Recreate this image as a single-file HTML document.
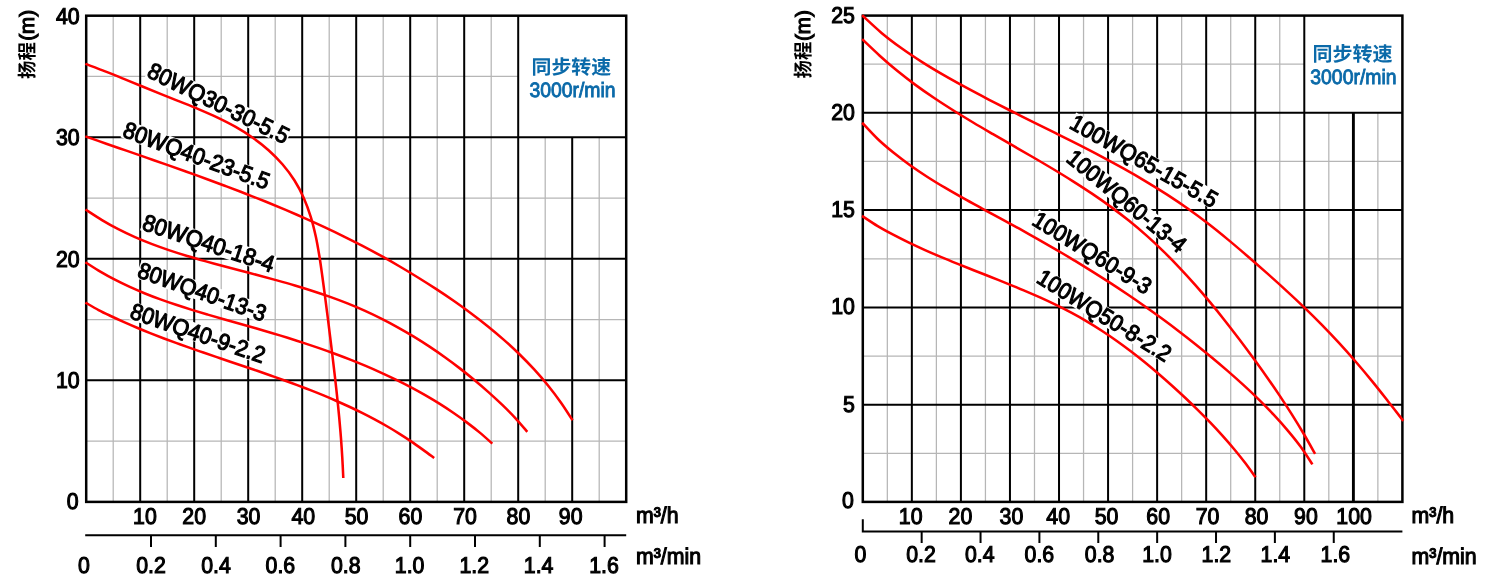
<!DOCTYPE html>
<html><head><meta charset="utf-8"><title>Pump performance curves</title>
<style>
html,body{margin:0;padding:0;background:#fff;}
body{width:1489px;height:580px;overflow:hidden;}
svg{display:block;font-family:"Liberation Sans", sans-serif;will-change:transform;text-rendering:geometricPrecision;}
text{white-space:pre;}
</style></head><body>
<svg width="1489" height="580" viewBox="0 0 1489 580">
<rect width="1489" height="580" fill="#fff"/>
<path d="M113.2 15.7V501.9M167.2 15.7V501.9M221.2 15.7V501.9M275.2 15.7V501.9M329.2 15.7V501.9M383.2 15.7V501.9M437.2 15.7V501.9M491.2 15.7V501.9M545.2 137.25V501.9M599.2 137.25V501.9M86.2 76.47H518.2M86.2 198.02H626.2M86.2 319.57H626.2M86.2 441.12H626.2" stroke="#b6b6b6" stroke-width="1.25" fill="none"/>
<path d="M140.2 15.7V501.9M194.2 15.7V501.9M248.2 15.7V501.9M302.2 15.7V501.9M356.2 15.7V501.9M410.2 15.7V501.9M464.2 15.7V501.9M518.2 15.7V501.9M572.2 137.25V501.9M86.2 137.25H626.2M86.2 258.8H626.2M86.2 380.35H626.2" stroke="#000" stroke-width="2" fill="none"/>
<rect x="86.2" y="15.7" width="540" height="486.2" stroke="#000" stroke-width="2.5" fill="none"/>
<path d="M887.33 15.6V501.9M936.38 15.6V501.9M985.44 15.6V501.9M1034.49 15.6V501.9M1083.55 15.6V501.9M1132.6 15.6V501.9M1181.65 15.6V501.9M1230.71 15.6V501.9M1279.76 15.6V501.9M1328.82 112.86V501.9M1377.87 112.86V501.9M862.8 64.23H1304.29M862.8 161.49H1402.4M862.8 258.75H1402.4M862.8 356.01H1402.4M862.8 453.27H1402.4" stroke="#b6b6b6" stroke-width="1.25" fill="none"/>
<path d="M911.85 15.6V501.9M960.91 15.6V501.9M1009.96 15.6V501.9M1059.02 15.6V501.9M1108.07 15.6V501.9M1157.13 15.6V501.9M1206.18 15.6V501.9M1255.24 15.6V501.9M1304.29 15.6V501.9M1353.35 112.86V501.9M862.8 112.86H1402.4M862.8 210.12H1402.4M862.8 307.38H1402.4M862.8 404.64H1402.4" stroke="#000" stroke-width="2" fill="none"/>
<path d="M1353.35 112.86V501.9" stroke="#000" stroke-width="2.8" fill="none"/>
<rect x="862.8" y="15.6" width="539.6" height="486.3" stroke="#000" stroke-width="2.5" fill="none"/>
<rect transform="translate(145.78 76.35) rotate(26.1)" x="-0.5" y="-17.06" width="155.29" height="18.37" fill="#fff"/>
<rect transform="translate(121.43 136.27) rotate(20.3)" x="-0.5" y="-17.06" width="155.29" height="18.37" fill="#fff"/>
<rect transform="translate(140.94 229.17) rotate(18.4)" x="-0.5" y="-17.21" width="138.45" height="18.54" fill="#fff"/>
<rect transform="translate(136.33 276.87) rotate(19.5)" x="-0.5" y="-16.82" width="135.31" height="18.12" fill="#fff"/>
<rect transform="translate(128.64 317.67) rotate(18.9)" x="-0.5" y="-16.9" width="141.91" height="18.2" fill="#fff"/>
<rect transform="translate(1068.36 127.54) rotate(29.3)" x="-0.5" y="-16.9" width="165.82" height="18.2" fill="#fff"/>
<rect transform="translate(1065.08 160.39) rotate(39.5)" x="-0.5" y="-16.9" width="147.89" height="18.2" fill="#fff"/>
<rect transform="translate(1030.64 224.03) rotate(31.7)" x="-0.5" y="-16.9" width="135.94" height="18.2" fill="#fff"/>
<rect transform="translate(1035.14 281.82) rotate(31.8)" x="-0.5" y="-16.9" width="153.87" height="18.2" fill="#fff"/>
<g fill="none" stroke="#ff0000" stroke-width="2.55" stroke-linecap="butt" stroke-linejoin="round">
<path d="M85.36 63.88C88.66 65.13 98.78 68.83 105.19 71.34C111.61 73.84 117.63 76.36 123.83 78.89C130.03 81.42 136.21 83.98 142.42 86.52C148.63 89.06 154.84 91.61 161.1 94.13C167.36 96.65 173.69 99.12 179.99 101.65C186.3 104.18 192.67 106.67 198.94 109.33C205.21 111.99 211.48 114.68 217.6 117.61C223.72 120.54 229.8 123.57 235.66 126.91C241.52 130.26 247.29 133.81 252.77 137.69C258.26 141.57 263.6 145.75 268.58 150.22C273.56 154.69 278.33 159.45 282.65 164.5C286.98 169.55 291 174.89 294.53 180.5C298.07 186.11 301.15 192.06 303.87 198.16C306.58 204.26 308.83 210.65 310.83 217.08C312.82 223.51 314.4 230.12 315.85 236.75C317.29 243.38 318.4 250.12 319.5 256.83C320.59 263.54 321.48 270.31 322.42 277.03C323.36 283.75 324.24 290.45 325.12 297.14C326 303.83 326.85 310.49 327.7 317.16C328.54 323.83 329.37 330.49 330.18 337.15C331 343.82 331.81 350.48 332.61 357.16C333.41 363.83 334.2 370.51 334.97 377.21C335.73 383.9 336.48 390.6 337.19 397.3C337.9 404.01 338.58 410.72 339.2 417.44C339.82 424.15 340.41 430.88 340.93 437.61C341.44 444.33 341.9 451.07 342.29 457.8C342.69 464.53 343.13 474.63 343.3 478"/>
<path d="M85.35 136.4C88.83 137.62 99.43 141.31 106.26 143.68C113.09 146.05 119.64 148.31 126.34 150.64C133.03 152.96 139.73 155.27 146.42 157.6C153.11 159.94 159.81 162.27 166.49 164.62C173.18 166.98 179.86 169.34 186.53 171.73C193.2 174.12 199.87 176.53 206.52 178.97C213.18 181.41 219.82 183.87 226.45 186.36C233.07 188.86 239.69 191.39 246.29 193.96C252.88 196.54 259.46 199.15 266.02 201.8C272.58 204.46 279.12 207.16 285.63 209.92C292.15 212.68 298.64 215.49 305.11 218.36C311.57 221.23 318.01 224.15 324.42 227.14C330.83 230.14 337.22 233.19 343.56 236.32C349.91 239.45 356.23 242.65 362.51 245.93C368.79 249.21 375.04 252.56 381.25 255.99C387.45 259.42 393.62 262.92 399.75 266.5C405.87 270.08 411.96 273.74 417.99 277.47C424.03 281.2 430.02 285.01 435.96 288.89C441.9 292.77 447.8 296.72 453.62 300.77C459.44 304.82 465.22 308.94 470.89 313.17C476.57 317.4 482.19 321.72 487.69 326.17C493.19 330.61 498.61 335.16 503.9 339.84C509.19 344.52 514.39 349.31 519.43 354.24C524.48 359.18 529.41 364.24 534.18 369.45C538.94 374.66 543.57 380.01 548.02 385.51C552.46 391.02 556.75 396.7 560.85 402.49C564.95 408.29 570.64 417.33 572.6 420.3"/>
<path d="M85.44 209.52C88.2 211.28 96.52 216.82 102 220.1C107.47 223.38 112.77 226.35 118.28 229.2C123.78 232.04 129.36 234.67 135 237.16C140.64 239.66 146.36 241.97 152.12 244.17C157.87 246.37 163.69 248.42 169.54 250.39C175.39 252.35 181.29 254.19 187.21 255.98C193.13 257.77 199.09 259.46 205.06 261.13C211.03 262.8 217.03 264.4 223.02 266C229.02 267.6 235.03 269.16 241.03 270.75C247.03 272.33 253.04 273.9 259.03 275.5C265.03 277.1 271.02 278.71 276.99 280.37C282.97 282.04 288.93 283.72 294.86 285.49C300.8 287.25 306.72 289.05 312.6 290.95C318.48 292.85 324.34 294.81 330.15 296.89C335.96 298.97 341.75 301.13 347.48 303.42C353.21 305.72 358.9 308.12 364.54 310.66C370.17 313.19 375.76 315.86 381.29 318.64C386.82 321.41 392.3 324.32 397.72 327.33C403.14 330.33 408.51 333.46 413.81 336.69C419.11 339.91 424.36 343.25 429.54 346.67C434.72 350.1 439.84 353.63 444.89 357.25C449.94 360.86 454.92 364.58 459.83 368.37C464.75 372.16 469.59 376.04 474.36 380C479.13 383.95 483.84 387.98 488.45 392.1C493.06 396.21 497.6 400.41 502.05 404.69C506.49 408.98 510.89 413.3 515.1 417.81C519.31 422.33 525.27 429.47 527.3 431.8"/>
<path d="M85.44 262.22C87.92 263.79 95.43 268.71 100.34 271.63C105.25 274.54 109.99 277.15 114.9 279.71C119.81 282.26 124.79 284.66 129.81 286.96C134.83 289.25 139.9 291.41 145.01 293.48C150.12 295.56 155.28 297.51 160.46 299.4C165.64 301.29 170.87 303.07 176.11 304.82C181.35 306.56 186.63 308.22 191.91 309.85C197.2 311.48 202.51 313.04 207.82 314.6C213.14 316.16 218.47 317.67 223.79 319.2C229.12 320.72 234.45 322.22 239.78 323.73C245.1 325.25 250.43 326.75 255.75 328.29C261.07 329.82 266.39 331.36 271.7 332.95C277 334.53 282.3 336.13 287.58 337.78C292.87 339.43 298.14 341.11 303.4 342.84C308.66 344.57 313.9 346.33 319.13 348.15C324.36 349.97 329.57 351.83 334.77 353.75C339.96 355.67 345.14 357.63 350.29 359.66C355.44 361.7 360.57 363.78 365.67 365.93C370.76 368.09 375.84 370.3 380.87 372.58C385.91 374.87 390.92 377.22 395.88 379.65C400.84 382.08 405.78 384.58 410.66 387.16C415.54 389.75 420.38 392.41 425.17 395.16C429.96 397.91 434.71 400.74 439.39 403.67C444.07 406.6 448.7 409.61 453.26 412.73C457.82 415.85 462.32 419.05 466.75 422.37C471.17 425.69 475.55 429.11 479.81 432.64C484.07 436.18 490.22 441.77 492.3 443.6"/>
<path d="M85.42 302.56C87.61 303.8 94.28 307.73 98.59 310.01C102.9 312.29 107.02 314.21 111.27 316.23C115.52 318.25 119.8 320.21 124.1 322.13C128.4 324.04 132.73 325.9 137.07 327.73C141.42 329.55 145.78 331.32 150.16 333.07C154.54 334.81 158.94 336.51 163.35 338.19C167.76 339.86 172.19 341.5 176.63 343.12C181.07 344.74 185.52 346.33 189.98 347.9C194.43 349.48 198.9 351.03 203.37 352.57C207.85 354.11 212.33 355.64 216.81 357.16C221.29 358.69 225.78 360.2 230.26 361.71C234.74 363.23 239.23 364.74 243.71 366.26C248.2 367.78 252.68 369.3 257.15 370.83C261.63 372.37 266.1 373.91 270.56 375.48C275.02 377.04 279.47 378.62 283.92 380.22C288.36 381.83 292.79 383.45 297.21 385.11C301.62 386.77 306.03 388.45 310.42 390.17C314.8 391.89 319.17 393.64 323.53 395.44C327.88 397.24 332.21 399.08 336.52 400.96C340.83 402.85 345.12 404.78 349.38 406.77C353.64 408.76 357.88 410.79 362.09 412.89C366.29 415 370.48 417.15 374.63 419.38C378.78 421.6 382.9 423.89 386.98 426.25C391.07 428.62 395.12 431.05 399.14 433.56C403.16 436.07 407.14 438.65 411.08 441.33C415.02 444 418.93 446.82 422.78 449.6C426.64 452.38 432.3 456.6 434.2 458"/>
<path d="M862.13 15.3C865.37 18.23 874.98 27.42 881.56 32.93C888.14 38.43 894.76 43.4 901.59 48.31C908.43 53.22 915.46 57.86 922.57 62.38C929.68 66.9 936.94 71.2 944.24 75.42C951.53 79.64 958.93 83.7 966.34 87.72C973.74 91.74 981.2 95.65 988.67 99.53C996.14 103.41 1003.65 107.2 1011.17 111C1018.69 114.8 1026.24 118.54 1033.78 122.3C1041.33 126.06 1048.9 129.8 1056.45 133.58C1063.99 137.36 1071.55 141.14 1079.07 144.98C1086.58 148.83 1094.09 152.69 1101.54 156.65C1109 160.6 1116.42 164.61 1123.78 168.72C1131.13 172.83 1138.45 177.02 1145.67 181.34C1152.89 185.66 1160.06 190.07 1167.12 194.64C1174.18 199.21 1181.16 203.91 1188.02 208.77C1194.89 213.63 1201.65 218.65 1208.32 223.79C1214.98 228.93 1221.53 234.25 1228.03 239.61C1234.53 244.98 1240.94 250.48 1247.33 255.98C1253.72 261.49 1260.07 267.06 1266.38 272.66C1272.69 278.26 1278.98 283.88 1285.19 289.58C1291.4 295.28 1297.58 301.02 1303.65 306.86C1309.72 312.69 1315.73 318.59 1321.62 324.61C1327.51 330.62 1333.3 336.73 1338.99 342.92C1344.69 349.12 1350.28 355.42 1355.78 361.79C1361.29 368.16 1366.7 374.62 1372.03 381.15C1377.36 387.67 1382.57 394.31 1387.78 400.93C1393 407.56 1400.71 417.57 1403.3 420.9"/>
<path d="M862.14 39.18C865.07 41.94 873.87 50.43 879.71 55.7C885.56 60.97 891.26 65.95 897.21 70.82C903.16 75.68 909.25 80.33 915.42 84.86C921.58 89.4 927.87 93.76 934.22 98.03C940.56 102.31 947.01 106.44 953.5 110.51C959.98 114.59 966.55 118.55 973.14 122.49C979.73 126.43 986.38 130.28 993.03 134.15C999.68 138.01 1006.37 141.82 1013.05 145.67C1019.73 149.52 1026.42 153.35 1033.08 157.24C1039.74 161.13 1046.4 165.03 1053.01 169.01C1059.61 172.98 1066.19 176.99 1072.69 181.1C1079.19 185.22 1085.66 189.38 1092.02 193.68C1098.38 197.97 1104.68 202.35 1110.86 206.87C1117.04 211.4 1123.14 216.03 1129.1 220.83C1135.06 225.63 1140.9 230.58 1146.62 235.67C1152.34 240.76 1157.94 246.01 1163.43 251.36C1168.93 256.71 1174.3 262.21 1179.59 267.79C1184.88 273.37 1190.06 279.07 1195.16 284.85C1200.26 290.62 1205.26 296.5 1210.19 302.43C1215.12 308.36 1219.97 314.38 1224.75 320.43C1229.53 326.49 1234.23 332.61 1238.89 338.74C1243.54 344.88 1248.13 351.06 1252.67 357.26C1257.2 363.46 1261.69 369.67 1266.1 375.94C1270.51 382.2 1274.87 388.49 1279.13 394.86C1283.39 401.22 1287.58 407.62 1291.67 414.1C1295.77 420.59 1299.77 427.14 1303.67 433.77C1307.58 440.4 1313.2 450.54 1315.1 453.9"/>
<path d="M862.18 122.75C864.73 125.42 872.26 133.81 877.46 138.78C882.66 143.75 887.93 148.16 893.37 152.57C898.81 156.98 904.41 161.16 910.09 165.23C915.78 169.29 921.6 173.16 927.48 176.95C933.37 180.74 939.36 184.37 945.39 187.95C951.43 191.53 957.54 194.99 963.68 198.43C969.81 201.86 976.01 205.21 982.19 208.58C988.38 211.94 994.6 215.25 1000.79 218.61C1006.99 221.97 1013.18 225.32 1019.34 228.73C1025.5 232.13 1031.63 235.56 1037.75 239.03C1043.86 242.5 1049.95 246 1056.01 249.55C1062.07 253.09 1068.1 256.67 1074.11 260.3C1080.12 263.93 1086.1 267.61 1092.05 271.33C1097.99 275.05 1103.91 278.82 1109.8 282.64C1115.69 286.46 1121.54 290.33 1127.37 294.26C1133.19 298.19 1138.98 302.18 1144.73 306.22C1150.48 310.26 1156.2 314.36 1161.87 318.52C1167.55 322.68 1173.19 326.89 1178.78 331.16C1184.37 335.44 1189.92 339.76 1195.43 344.15C1200.93 348.54 1206.39 352.98 1211.79 357.48C1217.2 361.98 1222.56 366.54 1227.86 371.15C1233.16 375.77 1238.43 380.43 1243.6 385.18C1248.77 389.93 1253.9 394.73 1258.9 399.64C1263.9 404.55 1268.83 409.54 1273.61 414.65C1278.4 419.77 1283.08 424.97 1287.59 430.33C1292.11 435.68 1296.56 441.11 1300.7 446.78C1304.83 452.46 1310.45 461.46 1312.4 464.4"/>
<path d="M862.05 215.91C864.66 217.61 872.52 222.97 877.71 226.09C882.9 229.22 887.96 231.91 893.17 234.66C898.38 237.42 903.66 240.05 908.97 242.61C914.28 245.17 919.65 247.63 925.04 250.05C930.43 252.46 935.87 254.79 941.32 257.09C946.77 259.39 952.26 261.62 957.75 263.85C963.24 266.07 968.76 268.25 974.27 270.44C979.78 272.63 985.31 274.79 990.82 276.99C996.32 279.18 1001.84 281.36 1007.32 283.59C1012.81 285.83 1018.29 288.07 1023.74 290.38C1029.18 292.69 1034.61 295.03 1039.99 297.46C1045.37 299.89 1050.72 302.37 1056.02 304.95C1061.31 307.54 1066.57 310.19 1071.76 312.97C1076.95 315.74 1082.09 318.62 1087.16 321.62C1092.23 324.62 1097.23 327.74 1102.18 330.96C1107.12 334.18 1112 337.52 1116.83 340.94C1121.65 344.36 1126.41 347.88 1131.12 351.48C1135.83 355.07 1140.48 358.76 1145.09 362.5C1149.69 366.25 1154.23 370.07 1158.73 373.95C1163.23 377.82 1167.68 381.76 1172.08 385.74C1176.49 389.71 1180.85 393.74 1185.15 397.8C1189.46 401.86 1193.73 405.96 1197.94 410.11C1202.14 414.26 1206.3 418.45 1210.38 422.71C1214.46 426.97 1218.48 431.28 1222.42 435.66C1226.36 440.05 1230.23 444.49 1234 449.02C1237.77 453.55 1241.48 458.14 1245.06 462.85C1248.65 467.56 1253.76 474.89 1255.5 477.3"/>
</g>
<text transform="translate(145.78 76.35) rotate(26.1) scale(1 1.07)" font-size="21.7" fill="#000" stroke="#000" stroke-width="1.05">80WQ30-30-5.5</text>
<text transform="translate(121.43 136.27) rotate(20.3) scale(1 1.07)" font-size="21.7" fill="#000" stroke="#000" stroke-width="1.05">80WQ40-23-5.5</text>
<text transform="translate(140.94 229.17) rotate(18.4) scale(1 1.07)" font-size="21.9" fill="#000" stroke="#000" stroke-width="1.05">80WQ40-18-4</text>
<text transform="translate(136.33 276.87) rotate(19.5) scale(1 1.07)" font-size="21.4" fill="#000" stroke="#000" stroke-width="1.05">80WQ40-13-3</text>
<text transform="translate(128.64 317.67) rotate(18.9) scale(1 1.07)" font-size="21.5" fill="#000" stroke="#000" stroke-width="1.05">80WQ40-9-2.2</text>
<text transform="translate(1068.36 127.54) rotate(29.3) scale(1 1.07)" font-size="21.5" fill="#000" stroke="#000" stroke-width="1.05">100WQ65-15-5.5</text>
<text transform="translate(1065.08 160.39) rotate(39.5) scale(1 1.07)" font-size="21.5" fill="#000" stroke="#000" stroke-width="1.05">100WQ60-13-4</text>
<text transform="translate(1030.64 224.03) rotate(31.7) scale(1 1.07)" font-size="21.5" fill="#000" stroke="#000" stroke-width="1.05">100WQ60-9-3</text>
<text transform="translate(1035.14 281.82) rotate(31.8) scale(1 1.07)" font-size="21.5" fill="#000" stroke="#000" stroke-width="1.05">100WQ50-8-2.2</text>
<text transform="translate(79.6 24.2) scale(1 1.07)" text-anchor="end" font-size="21.3" fill="#000" stroke="#000" stroke-width="1.05" >40</text>
<text transform="translate(79.6 145.15) scale(1 1.07)" text-anchor="end" font-size="21.3" fill="#000" stroke="#000" stroke-width="1.05" >30</text>
<text transform="translate(79.6 266.7) scale(1 1.07)" text-anchor="end" font-size="21.3" fill="#000" stroke="#000" stroke-width="1.05" >20</text>
<text transform="translate(79.6 388.25) scale(1 1.07)" text-anchor="end" font-size="21.3" fill="#000" stroke="#000" stroke-width="1.05" >10</text>
<text transform="translate(78.6 509.3) scale(1 1.07)" text-anchor="end" font-size="21.3" fill="#000" stroke="#000" stroke-width="1.05" >0</text>
<text transform="translate(144.9 523.5) scale(1 1.07)" text-anchor="middle" font-size="21.3" fill="#000" stroke="#000" stroke-width="1.05" >10</text>
<text transform="translate(194.2 523.5) scale(1 1.07)" text-anchor="middle" font-size="21.3" fill="#000" stroke="#000" stroke-width="1.05" >20</text>
<text transform="translate(248.6 523.5) scale(1 1.07)" text-anchor="middle" font-size="21.3" fill="#000" stroke="#000" stroke-width="1.05" >30</text>
<text transform="translate(303.3 523.5) scale(1 1.07)" text-anchor="middle" font-size="21.3" fill="#000" stroke="#000" stroke-width="1.05" >40</text>
<text transform="translate(356.6 523.5) scale(1 1.07)" text-anchor="middle" font-size="21.3" fill="#000" stroke="#000" stroke-width="1.05" >50</text>
<text transform="translate(410.4 523.5) scale(1 1.07)" text-anchor="middle" font-size="21.3" fill="#000" stroke="#000" stroke-width="1.05" >60</text>
<text transform="translate(465 523.5) scale(1 1.07)" text-anchor="middle" font-size="21.3" fill="#000" stroke="#000" stroke-width="1.05" >70</text>
<text transform="translate(518.4 523.5) scale(1 1.07)" text-anchor="middle" font-size="21.3" fill="#000" stroke="#000" stroke-width="1.05" >80</text>
<text transform="translate(570.7 523.5) scale(1 1.07)" text-anchor="middle" font-size="21.3" fill="#000" stroke="#000" stroke-width="1.05" >90</text>
<text transform="translate(636 523.2) scale(1 1.07)" text-anchor="start" font-size="21.3" fill="#000" stroke="#000" stroke-width="1.05" >m³/h</text>
<text transform="translate(636 563.6) scale(1 1.07)" text-anchor="start" font-size="21.3" fill="#000" stroke="#000" stroke-width="1.05" >m³/min</text>
<text transform="translate(84 572.5) scale(1 1.07)" text-anchor="middle" font-size="21.3" fill="#000" stroke="#000" stroke-width="1.05" >0</text>
<text transform="translate(151 572.5) scale(1 1.07)" text-anchor="middle" font-size="21.3" fill="#000" stroke="#000" stroke-width="1.05" >0.2</text>
<text transform="translate(216 572.5) scale(1 1.07)" text-anchor="middle" font-size="21.3" fill="#000" stroke="#000" stroke-width="1.05" >0.4</text>
<text transform="translate(280.4 572.5) scale(1 1.07)" text-anchor="middle" font-size="21.3" fill="#000" stroke="#000" stroke-width="1.05" >0.6</text>
<text transform="translate(345.7 572.5) scale(1 1.07)" text-anchor="middle" font-size="21.3" fill="#000" stroke="#000" stroke-width="1.05" >0.8</text>
<text transform="translate(409.6 572.5) scale(1 1.07)" text-anchor="middle" font-size="21.3" fill="#000" stroke="#000" stroke-width="1.05" >1.0</text>
<text transform="translate(474.3 572.5) scale(1 1.07)" text-anchor="middle" font-size="21.3" fill="#000" stroke="#000" stroke-width="1.05" >1.2</text>
<text transform="translate(538.6 572.5) scale(1 1.07)" text-anchor="middle" font-size="21.3" fill="#000" stroke="#000" stroke-width="1.05" >1.4</text>
<text transform="translate(604 572.5) scale(1 1.07)" text-anchor="middle" font-size="21.3" fill="#000" stroke="#000" stroke-width="1.05" >1.6</text>
<path d="M85.2 535.2H626.2M151 535.2V547M215.8 535.2V547M280.6 535.2V547M345.4 535.2V547M410.2 535.2V547M475 535.2V547M539.8 535.2V547M604.6 535.2V547" stroke="#000" stroke-width="2" fill="none"/>
<text transform="translate(854.9 22.7) scale(1 1.07)" text-anchor="end" font-size="21.3" fill="#000" stroke="#000" stroke-width="1.05" >25</text>
<text transform="translate(854.9 119.96) scale(1 1.07)" text-anchor="end" font-size="21.3" fill="#000" stroke="#000" stroke-width="1.05" >20</text>
<text transform="translate(854.9 217.22) scale(1 1.07)" text-anchor="end" font-size="21.3" fill="#000" stroke="#000" stroke-width="1.05" >15</text>
<text transform="translate(854.9 314.48) scale(1 1.07)" text-anchor="end" font-size="21.3" fill="#000" stroke="#000" stroke-width="1.05" >10</text>
<text transform="translate(854.9 411.74) scale(1 1.07)" text-anchor="end" font-size="21.3" fill="#000" stroke="#000" stroke-width="1.05" >5</text>
<text transform="translate(853.9 508.2) scale(1 1.07)" text-anchor="end" font-size="21.3" fill="#000" stroke="#000" stroke-width="1.05" >0</text>
<text transform="translate(910.7 523.7) scale(1 1.07)" text-anchor="middle" font-size="21.3" fill="#000" stroke="#000" stroke-width="1.05" >10</text>
<text transform="translate(960.4 523.7) scale(1 1.07)" text-anchor="middle" font-size="21.3" fill="#000" stroke="#000" stroke-width="1.05" >20</text>
<text transform="translate(1011.4 523.7) scale(1 1.07)" text-anchor="middle" font-size="21.3" fill="#000" stroke="#000" stroke-width="1.05" >30</text>
<text transform="translate(1058.2 523.7) scale(1 1.07)" text-anchor="middle" font-size="21.3" fill="#000" stroke="#000" stroke-width="1.05" >40</text>
<text transform="translate(1106.6 523.7) scale(1 1.07)" text-anchor="middle" font-size="21.3" fill="#000" stroke="#000" stroke-width="1.05" >50</text>
<text transform="translate(1158.2 523.7) scale(1 1.07)" text-anchor="middle" font-size="21.3" fill="#000" stroke="#000" stroke-width="1.05" >60</text>
<text transform="translate(1207.6 523.7) scale(1 1.07)" text-anchor="middle" font-size="21.3" fill="#000" stroke="#000" stroke-width="1.05" >70</text>
<text transform="translate(1256.5 523.7) scale(1 1.07)" text-anchor="middle" font-size="21.3" fill="#000" stroke="#000" stroke-width="1.05" >80</text>
<text transform="translate(1305.9 523.7) scale(1 1.07)" text-anchor="middle" font-size="21.3" fill="#000" stroke="#000" stroke-width="1.05" >90</text>
<text transform="translate(1354.1 523.7) scale(1 1.07)" text-anchor="middle" font-size="21.3" fill="#000" stroke="#000" stroke-width="1.05" >100</text>
<text transform="translate(1411.6 523.2) scale(1 1.07)" text-anchor="start" font-size="21.3" fill="#000" stroke="#000" stroke-width="1.05" >m³/h</text>
<text transform="translate(1411.6 563.6) scale(1 1.07)" text-anchor="start" font-size="21.3" fill="#000" stroke="#000" stroke-width="1.05" >m³/min</text>
<text transform="translate(860.3 562.3) scale(1 1.07)" text-anchor="middle" font-size="21.3" fill="#000" stroke="#000" stroke-width="1.05" >0</text>
<text transform="translate(921 562.3) scale(1 1.07)" text-anchor="middle" font-size="21.3" fill="#000" stroke="#000" stroke-width="1.05" >0.2</text>
<text transform="translate(979.7 562.3) scale(1 1.07)" text-anchor="middle" font-size="21.3" fill="#000" stroke="#000" stroke-width="1.05" >0.4</text>
<text transform="translate(1039.4 562.3) scale(1 1.07)" text-anchor="middle" font-size="21.3" fill="#000" stroke="#000" stroke-width="1.05" >0.6</text>
<text transform="translate(1099.6 562.3) scale(1 1.07)" text-anchor="middle" font-size="21.3" fill="#000" stroke="#000" stroke-width="1.05" >0.8</text>
<text transform="translate(1157 562.3) scale(1 1.07)" text-anchor="middle" font-size="21.3" fill="#000" stroke="#000" stroke-width="1.05" >1.0</text>
<text transform="translate(1216.4 562.3) scale(1 1.07)" text-anchor="middle" font-size="21.3" fill="#000" stroke="#000" stroke-width="1.05" >1.2</text>
<text transform="translate(1275.4 562.3) scale(1 1.07)" text-anchor="middle" font-size="21.3" fill="#000" stroke="#000" stroke-width="1.05" >1.4</text>
<text transform="translate(1335.4 562.3) scale(1 1.07)" text-anchor="middle" font-size="21.3" fill="#000" stroke="#000" stroke-width="1.05" >1.6</text>
<path d="M862.8 519.3V531.4H1402.4M921.67 531.4V543M980.54 531.4V543M1039.41 531.4V543M1098.28 531.4V543M1157.15 531.4V543M1216.02 531.4V543M1274.89 531.4V543M1333.76 531.4V543" stroke="#000" stroke-width="2" fill="none"/>
<text x="531.6" y="73.6" font-size="19.7" font-weight="bold" fill="#0b6aa9" textLength="79.5" lengthAdjust="spacingAndGlyphs" style="font-family:'Liberation Sans','Noto Sans CJK SC',sans-serif">同步转速</text>
<text transform="translate(572.5 96.7) scale(1 1.07)" text-anchor="middle" font-size="19.4" fill="#0b6aa9" stroke="#0b6aa9" stroke-width="0.85" >3000r/min</text>
<text x="1312.5" y="61.3" font-size="19.9" font-weight="bold" fill="#0b6aa9" textLength="80" lengthAdjust="spacingAndGlyphs" style="font-family:'Liberation Sans','Noto Sans CJK SC',sans-serif">同步转速</text>
<text transform="translate(1353.4 84.4) scale(1 1.07)" text-anchor="middle" font-size="19.4" fill="#0b6aa9" stroke="#0b6aa9" stroke-width="0.85" >3000r/min</text>
<text transform="translate(26.3 78.4) rotate(-90)" x="-0.5" y="7.6" font-size="19.3" font-weight="bold" fill="#000" textLength="36.8" lengthAdjust="spacingAndGlyphs" style="font-family:'Liberation Sans','Noto Sans CJK SC',sans-serif">扬程</text><text transform="translate(26.3 78.4) rotate(-90)" x="37.6" y="7.3" font-size="20.6" fill="#000" stroke="#000" stroke-width="1.1">(m)</text>
<text transform="translate(802.8 77.9) rotate(-90)" x="-0.5" y="7.6" font-size="19.3" font-weight="bold" fill="#000" textLength="36.8" lengthAdjust="spacingAndGlyphs" style="font-family:'Liberation Sans','Noto Sans CJK SC',sans-serif">扬程</text><text transform="translate(802.8 77.9) rotate(-90)" x="36.9" y="7.3" font-size="20.6" fill="#000" stroke="#000" stroke-width="1.1">(m)</text>
</svg>
</body></html>
